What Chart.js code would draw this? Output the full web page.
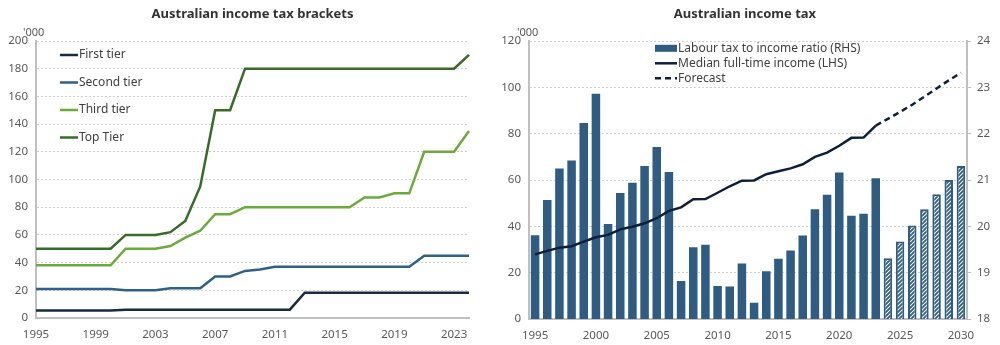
<!DOCTYPE html>
<html>
<head>
<meta charset="utf-8">
<script src="https://cdn.jsdelivr.net/npm/chart.js@4.4.1/dist/chart.umd.min.js"></script>
<style>
  body { margin: 0; background: #fff; }
  #wrap { position: relative; width: 1000px; height: 345px; }
  .box { position: absolute; top: 0; height: 345px; }
</style>
</head>
<body>
<div id="wrap">
  <div class="box" style="left:0;width:490px"><canvas id="bracketChart"></canvas></div>
  <div class="box" style="left:490px;width:510px"><canvas id="taxChart"></canvas></div>
</div>
<script>
// left chart - tax bracket thresholds ('000)
const bracketYears = [1995, 1996, 1997, 1998, 1999, 2000, 2001, 2002, 2003, 2004,
  2005, 2006, 2007, 2008, 2009, 2010, 2011, 2012, 2013, 2014,
  2015, 2016, 2017, 2018, 2019, 2020, 2021, 2022, 2023, 2024];
const firstTier = [5.4, 5.4, 5.4, 5.4, 5.4, 5.4, 6, 6, 6, 6,
  6, 6, 6, 6, 6, 6, 6, 6, 18.2, 18.2,
  18.2, 18.2, 18.2, 18.2, 18.2, 18.2, 18.2, 18.2, 18.2, 18.2];
const secondTier = [21, 21, 21, 21, 21, 21, 20, 20, 20, 21.5,
  21.5, 21.5, 30, 30, 34, 35, 37, 37, 37, 37,
  37, 37, 37, 37, 37, 37, 45, 45, 45, 45];
const thirdTier = [38, 38, 38, 38, 38, 38, 50, 50, 50, 52,
  58, 63, 75, 75, 80, 80, 80, 80, 80, 80,
  80, 80, 87, 87, 90, 90, 120, 120, 120, 135];
const topTier = [50, 50, 50, 50, 50, 50, 60, 60, 60, 62,
  70, 95, 150, 150, 180, 180, 180, 180, 180, 180,
  180, 180, 180, 180, 180, 180, 180, 180, 180, 190];

// right chart - labour tax ratio (RHS, %) and median income (LHS, '000)
const taxYears = [1995, 1996, 1997, 1998, 1999, 2000, 2001, 2002, 2003, 2004,
  2005, 2006, 2007, 2008, 2009, 2010, 2011, 2012, 2013, 2014,
  2015, 2016, 2017, 2018, 2019, 2020, 2021, 2022, 2023, 2024,
  2025, 2026, 2027, 2028, 2029, 2030];
const taxRatio = [19.81, 20.57, 21.25, 21.42, 22.23, 22.86, 20.05, 20.72, 20.94, 21.3,
  21.71, 21.17, 18.82, 19.55, 19.6, 18.71, 18.7, 19.2, 18.35, 19.03,
  19.3, 19.48, 19.8, 20.37, 20.68, 21.16, 20.23, 20.27, 21.04, 19.31,
  19.67, 20.02, 20.37, 20.69, 21.0, 21.3];
const medianIncome = [27.9, 29.4, 30.8, 31.4, 33.4, 35.3, 36.3, 38.7, 39.8, 41.3,
  43.5, 46.7, 48.2, 51.7, 51.8, 54.5, 57.3, 59.7, 59.8, 62.5,
  63.8, 65, 66.8, 70, 71.8, 74.8, 78.2, 78.3, 83.5, null,
  null, null, null, null, null, null];
const forecastIncome = [null, null, null, null, null, null, null, null, null, null,
  null, null, null, null, null, null, null, null, null, null,
  null, null, null, null, null, null, null, null, 83.5, 86.4,
  89.4, 92.5, 96, 99.5, 103, 106.3];
const firstForecastYear = 2024;

const barBlue = '#2f5c80';
const tickColor = '#595959';
const gridColor = '#d0d0d0';
const axisColor = '#bfbfbf';

Chart.defaults.font.family = '"Noto Sans", sans-serif';
Chart.defaults.font.size = 11.5;
Chart.defaults.color = tickColor;

// hatch for forecast bars
const hatchCanvas = document.createElement('canvas');
hatchCanvas.width = 4;
hatchCanvas.height = 4;
const hc = hatchCanvas.getContext('2d');
hc.fillStyle = '#fff';
hc.fillRect(0, 0, 4, 4);
hc.strokeStyle = barBlue;
hc.lineWidth = 1.8;
hc.beginPath();
hc.moveTo(0, 4); hc.lineTo(4, 0);
hc.moveTo(-1, 1); hc.lineTo(1, -1);
hc.moveTo(3, 5); hc.lineTo(5, 3);
hc.stroke();
const hatch = hc.createPattern(hatchCanvas, 'repeat');

// legend drawn inside the plot area + the '000 unit label
const innerLegend = {
  id: 'innerLegend',
  afterDraw(chart, args, opts) {
    const { ctx, chartArea } = chart;
    ctx.save();
    ctx.font = '12px "Noto Sans", sans-serif';
    ctx.textBaseline = 'middle';
    chart.data.datasets.forEach((ds, i) => {
      const x = chartArea.left + opts.x;
      const y = chartArea.top + opts.y + i * opts.gap;
      if (ds.type === 'bar') {
        ctx.fillStyle = ds.legendColor;
        ctx.fillRect(x, y - 3.5, opts.sample, 7);
      } else {
        ctx.strokeStyle = ds.borderColor;
        ctx.lineWidth = 2.5;
        ctx.setLineDash(ds.borderDash || []);
        ctx.beginPath();
        ctx.moveTo(x, y);
        ctx.lineTo(x + opts.sample, y);
        ctx.stroke();
        ctx.setLineDash([]);
      }
      ctx.fillStyle = '#404040';
      ctx.textAlign = 'left';
      ctx.fillText(ds.label, x + opts.sample + 1, y);
    });
    ctx.font = '11px "Noto Sans", sans-serif';
    ctx.fillStyle = tickColor;
    ctx.textBaseline = 'alphabetic';
    ctx.fillText("'000", chartArea.left + opts.unitX, 36);
    ctx.restore();
  }
};

const titleOpts = (text, full) => ({
  display: true,
  text: text,
  fullSize: full,
  color: '#333',
  font: { size: 13, weight: 'bold' },
  padding: { top: 6, bottom: 19.4 }
});

new Chart(document.getElementById('bracketChart'), {
  type: 'line',
  data: {
    labels: bracketYears,
    datasets: [
      { type: 'line', label: 'First tier', data: firstTier, borderColor: '#1b2a44' },
      { type: 'line', label: 'Second tier', data: secondTier, borderColor: '#2f6088' },
      { type: 'line', label: 'Third tier', data: thirdTier, borderColor: '#6aab3c' },
      { type: 'line', label: 'Top Tier', data: topTier, borderColor: '#386b28' }
    ]
  },
  options: {
    responsive: true,
    maintainAspectRatio: false,
    animation: false,
    layout: { padding: { left: 0, right: 21, top: 0, bottom: 0 } },
    elements: {
      line: { borderWidth: 2.5, tension: 0 },
      point: { radius: 0 }
    },
    plugins: {
      title: titleOpts('Australian income tax brackets', false),
      legend: { display: false },
      tooltip: { enabled: false },
      innerLegend: { x: 24, y: 14, gap: 27.5, sample: 18, unitX: -13 }
    },
    scales: {
      x: {
        grid: { display: false, drawTicks: false },
        border: { color: axisColor, width: 2 },
        ticks: {
          autoSkip: false,
          maxRotation: 0,
          padding: 10,
          callback: (v, i) => (bracketYears[i] - 1995) % 4 === 0 ? bracketYears[i] : ''
        },
        afterFit: s => { s.height = 27; }
      },
      y: {
        min: 0,
        max: 200,
        ticks: { stepSize: 20, padding: 8 },
        grid: { color: gridColor, drawTicks: false },
        border: { color: axisColor, width: 2, dash: [2, 2] },
        afterFit: s => { s.width = 36; }
      }
    }
  },
  plugins: [innerLegend]
});

new Chart(document.getElementById('taxChart'), {
  data: {
    labels: taxYears,
    datasets: [
      {
        type: 'bar',
        label: 'Labour tax to income ratio (RHS)',
        data: taxRatio,
        yAxisID: 'y1',
        order: 2,
        legendColor: barBlue,
        backgroundColor: c => taxYears[c.dataIndex] >= firstForecastYear ? hatch : barBlue,
        borderColor: barBlue,
        borderWidth: c => taxYears[c.dataIndex] >= firstForecastYear ? 2 : 0,
        barPercentage: 0.7,
        categoryPercentage: 1
      },
      {
        type: 'line',
        label: 'Median full-time income (LHS)',
        data: medianIncome,
        yAxisID: 'y',
        order: 1,
        borderColor: '#0e1f3b',
        borderWidth: 2.5,
        pointRadius: 0,
        tension: 0
      },
      {
        type: 'line',
        label: 'Forecast',
        data: forecastIncome,
        yAxisID: 'y',
        order: 0,
        borderColor: '#0e1f3b',
        borderWidth: 2.5,
        borderDash: [6, 4],
        pointRadius: 0,
        tension: 0
      }
    ]
  },
  options: {
    responsive: true,
    maintainAspectRatio: false,
    animation: false,
    layout: { padding: 0 },
    plugins: {
      title: titleOpts('Australian income tax', true),
      legend: { display: false },
      tooltip: { enabled: false },
      innerLegend: { x: 126, y: 7.3, gap: 15, sample: 22, unitX: -12 }
    },
    scales: {
      x: {
        type: 'category',
        offset: true,
        grid: { display: false, drawTicks: false },
        border: { color: axisColor, width: 2 },
        ticks: {
          autoSkip: false,
          maxRotation: 0,
          padding: 10,
          callback: (v, i) => taxYears[i] % 5 === 0 ? taxYears[i] : ''
        },
        afterFit: s => { s.height = 26; }
      },
      y: {
        position: 'left',
        min: 0,
        max: 120,
        ticks: { stepSize: 20, padding: 8 },
        grid: { color: gridColor, drawTicks: false },
        border: { color: axisColor, width: 2, dash: [2, 2] },
        afterFit: s => { s.width = 39; }
      },
      y1: {
        position: 'right',
        min: 18,
        max: 24,
        ticks: { stepSize: 1, padding: 6 },
        grid: { drawOnChartArea: false, color: axisColor, tickLength: 4 },
        border: { color: axisColor, width: 2 },
        afterFit: s => { s.width = 33; }
      }
    }
  },
  plugins: [innerLegend]
});
</script>
</body>
</html>
